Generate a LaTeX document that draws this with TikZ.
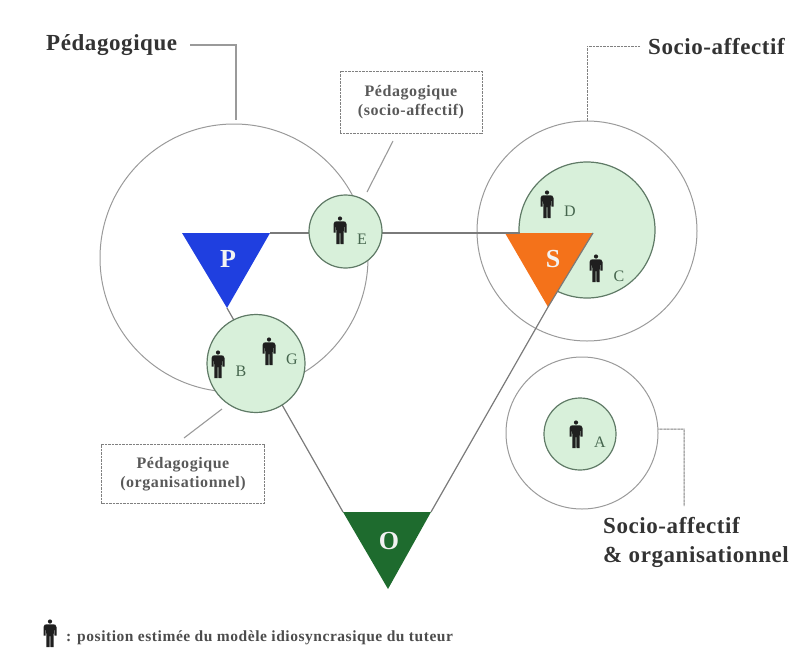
\documentclass[tikz,border=0pt]{standalone}
\usepackage{fontspec}
\setmainfont{Liberation Serif}
\newcommand{\fsz}[1]{\fontsize{#1}{#1}\selectfont}
\newcommand{\wide}{\addfontfeature{LetterSpace=3.5}}
\newcommand{\widesm}{\addfontfeature{LetterSpace=2.5}}
\definecolor{mint}{HTML}{D8F0DA}
\definecolor{ringgray}{HTML}{9A9A9A}
\definecolor{ringdark}{HTML}{5F7A66}
\definecolor{edgegray}{HTML}{7A7A7A}
\definecolor{dotgray}{HTML}{808080}
\definecolor{labgreen}{HTML}{46664E}
\definecolor{pblue}{HTML}{1F3FE0}
\definecolor{sorange}{HTML}{F4721A}
\definecolor{ogreen}{HTML}{1E6B2E}
\tikzset{
  ring/.style={circle,draw=ringgray,line width=1pt,inner sep=0pt,fill=none},
  zone/.style={circle,draw=ringdark,line width=1.2pt,fill=mint,inner sep=0pt},
  edgeline/.style={draw=edgegray,line width=1.2pt},
  leader/.style={draw=dotgray,line width=1pt,dash pattern=on 1pt off .4pt},
  pointer/.style={draw=ringgray,line width=1.1pt},
  bigtext/.style={font=\fsz{23}\bfseries\widesm,text=black!80,inner sep=0pt,align=left},
  boxtext/.style={draw=dotgray,line width=1pt,dash pattern=on 1pt off .4pt,align=center,font=\fsz{16}\bfseries\wide,text=black!65,inner sep=0pt},
  letter/.style={font=\fsz{16},text=labgreen,inner sep=0pt},
  tri/.style={font=\fsz{26}\bfseries,text=white!95!black,inner sep=0pt},
  person/.pic={
    \fill[black!88] (0,-12.5) circle (2.1);
    \fill[black!88] (-6.5,-7) .. controls (-6.5,-9.5) and (-4.5,-9.7) .. (-3,-9.7) -- (3,-9.7)
      .. controls (4.5,-9.7) and (6.5,-9.5) .. (6.5,-7) -- (6.5,1.5) -- (4.5,1.5) -- (4.2,-5) -- (3.8,-5)
      -- (3.6,13) -- (.5,13) -- (.3,2) -- (-.3,2) -- (-.5,13) -- (-3.6,13) -- (-3.8,-5) -- (-4.2,-5) -- (-4.5,1.5) -- (-6.5,1.5) -- cycle;
  }
}
\begin{document}
\begin{tikzpicture}[x=1pt,y=-1pt]
\useasboundingbox (0,0) rectangle (810,648);
% triangle corners
\coordinate (pL) at (182,233);
\coordinate (pR) at (270,233);
\coordinate (pB) at (227,308);
\coordinate (sL) at (505,233);
\coordinate (sR) at (593,233);
\coordinate (sB) at (548,307);
\coordinate (oL) at (343,512);
\coordinate (oR) at (431,512);
\coordinate (oB) at (388,589);
\coordinate (sT) at (520,233);
% rings
\node[ring,minimum size=268pt] (bigP) at (234,258) {};
\node[ring,minimum size=220pt] (bigS) at (587,231) {};
\node[ring,minimum size=152pt] (bigA) at (582,433) {};
% triangle edges
\draw[edgeline] (pR) -- (sL);
\draw[edgeline] (pB) -- (oL);
\draw[edgeline] (sB) -- (oR);
% zones
\node[zone,minimum size=73pt] (zE) at (345.5,231.5) {};
\node[zone,minimum size=98pt] (zB) at (256,363.5) {};
\node[zone,minimum size=136pt] (zS) at (587,230) {};
\node[zone,minimum size=72pt] (zA) at (580,434) {};
% triangles
\fill[pblue] (pL) -- (pR) -- (pB) -- cycle;
\fill[sorange] (sL) -- (sR) -- (sB) -- cycle;
\fill[ogreen] (oL) -- (oR) -- (oB) -- cycle;
\draw[edgeline] (sL) -- (sT);
\draw[edgeline] (sR) -- (sB);
\node[tri] (tP) at (228,259) {P};
\node[tri] (tS) at (553,259) {S};
\node[tri] (tO) at (389,541) {O};
% people
\pic at (340,231) {person};
\pic at (218,365) {person};
\pic at (269,352) {person};
\pic at (547,205) {person};
\pic at (596,269) {person};
\pic at (576,435) {person};
\pic at (50,634) {person};
\node[letter] (lE) at (362,239) {E};
\node[letter] (lB) at (241,371) {B};
\node[letter] (lG) at (292,359) {G};
\node[letter] (lD) at (570,211) {D};
\node[letter] (lC) at (619,276) {C};
\node[letter] (lA) at (600,442) {A};
% big labels
\node[bigtext,anchor=west] (tPed) at (46,45) {Pédagogique};
\node[bigtext,anchor=west] (tSoc) at (648,47) {Socio-affectif};
\node[bigtext,anchor=west] (tSO1) at (603,526) {Socio-affectif};
\node[bigtext,anchor=west] (tSO2) at (603,557) {\&\ organisationnel};
% leaders
\coordinate (aP) at (190,45);
\coordinate (bP) at (236,45);
\coordinate (cP) at (236,120);
\draw[pointer] (aP) -- (bP) -- (cP);
\coordinate (aS) at (640,46);
\coordinate (bS) at (587,46);
\draw[leader] (aS) -- (bS) -- (bigS.north);
\coordinate (bA) at (684,429);
\coordinate (cA) at (684,506);
\draw[leader] (bigA.3) -- (bA) -- (cA);
% boxes
\node[boxtext,minimum width=142pt,minimum height=62pt] (bE) at (411,102) {Pédagogique\\[3pt](socio-affectif)};
\node[boxtext,minimum width=163pt,minimum height=59pt] (bB) at (183,474) {Pédagogique\\[3pt](organisationnel)};
\coordinate (pE) at (393,141);
\coordinate (qE) at (367,192);
\coordinate (pB2) at (184,438);
\coordinate (qB2) at (222,409);
\draw[pointer] (pE) -- (qE);
\draw[pointer] (pB2) -- (qB2);
% legend
\node[anchor=west,inner sep=0pt,font=\fsz{15.5}\bfseries\wide,text=black!70] (leg) at (66,638) {: position estimée du modèle idiosyncrasique du tuteur};
\end{tikzpicture}
\end{document}
